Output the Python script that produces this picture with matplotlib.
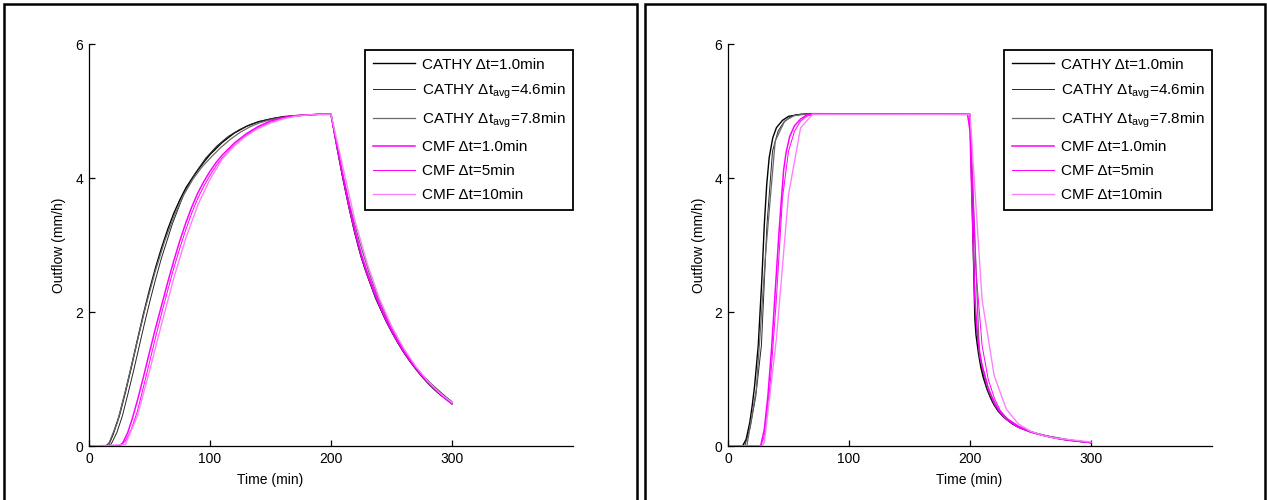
import numpy as np
import matplotlib
matplotlib.use('Agg')
import matplotlib.pyplot as plt
from matplotlib.patches import Rectangle

plt.rcParams['font.family'] = ['Liberation Sans', 'DejaVu Sans']
plt.rcParams['mathtext.fontset'] = 'custom'
plt.rcParams['mathtext.rm'] = 'Liberation Sans'
plt.rcParams['mathtext.it'] = 'Liberation Sans:italic'

# ---- left panel ----
tA_c1 = [0, 14, 17, 20, 25, 30, 35, 40, 45, 50, 55, 60, 65, 70, 75, 80, 85, 90, 95, 100,
         110, 120, 130, 140, 150, 160, 170, 180, 190, 200, 205, 210, 215, 220, 225, 230,
         235, 240, 245, 250, 255, 260, 265, 270, 275, 280, 285, 290, 295, 300]
A_c1 = [0, 0, 0.05, 0.18, 0.45, 0.8, 1.18, 1.58, 1.97, 2.33, 2.66, 2.96, 3.23, 3.47, 3.67,
        3.85, 3.99, 4.12, 4.24, 4.35, 4.53, 4.67, 4.77, 4.84, 4.88, 4.91, 4.93, 4.94, 4.95,
        4.95, 4.45, 3.98, 3.55, 3.16, 2.82, 2.55, 2.31, 2.09, 1.89, 1.71, 1.55, 1.40, 1.27,
        1.15, 1.04, 0.94, 0.85, 0.77, 0.70, 0.63]
tA_c46 = [0, 13.8, 18.4, 23.0, 27.6, 32.2, 36.8, 41.4, 46.0, 50.6, 55.2, 59.8, 69.0, 78.2,
          87.4, 96.6, 105.8, 115.0, 124.2, 133.4, 142.6, 151.8, 161.0, 170.2, 179.4, 188.6,
          197.8, 200, 204.6, 209.2, 213.8, 218.4, 223.0, 227.6, 236.8, 246.0, 255.2, 264.4,
          273.6, 282.8, 292.0, 300]
A_c46 = [0, 0, 0.03, 0.2, 0.45, 0.78, 1.12, 1.48, 1.84, 2.18, 2.5, 2.8, 3.32, 3.75, 4.06,
         4.3, 4.48, 4.62, 4.72, 4.8, 4.85, 4.89, 4.92, 4.93, 4.94, 4.95, 4.95, 4.95, 4.5,
         4.05, 3.65, 3.27, 2.94, 2.66, 2.2, 1.84, 1.54, 1.3, 1.1, 0.93, 0.78, 0.66]
tA_c78 = [0, 15.6, 23.4, 31.2, 39.0, 46.8, 54.6, 62.4, 70.2, 78.0, 85.8, 93.6, 101.4, 109.2,
          117.0, 124.8, 132.6, 140.4, 148.2, 156.0, 171.6, 187.2, 200, 207.8, 215.6, 223.4,
          231.2, 239.0, 246.8, 254.6, 262.4, 270.2, 278.0, 285.8, 293.6, 300]
A_c78 = [0, 0, 0.35, 0.9, 1.5, 2.08, 2.6, 3.05, 3.43, 3.74, 3.98, 4.17, 4.32, 4.46, 4.58,
         4.68, 4.76, 4.82, 4.86, 4.89, 4.93, 4.95, 4.95, 4.2, 3.58, 3.06, 2.6, 2.21, 1.89,
         1.6, 1.37, 1.17, 1.0, 0.86, 0.73, 0.64]
tA_m1 = [0, 25, 28, 32, 36, 40, 45, 50, 55, 60, 65, 70, 75, 80, 85, 90, 95, 100, 105, 110,
         120, 130, 140, 150, 160, 170, 180, 190, 200, 205, 210, 215, 220, 225, 230, 235, 240,
         245, 250, 255, 260, 265, 270, 275, 280, 285, 290, 295, 300]
A_m1 = [0, 0, 0.05, 0.2, 0.42, 0.68, 1.03, 1.4, 1.76, 2.1, 2.44, 2.76, 3.06, 3.33, 3.57, 3.78,
        3.95, 4.1, 4.23, 4.34, 4.52, 4.66, 4.77, 4.85, 4.9, 4.93, 4.94, 4.95, 4.95, 4.47,
        4.0, 3.57, 3.18, 2.84, 2.56, 2.32, 2.1, 1.9, 1.72, 1.56, 1.41, 1.28, 1.16, 1.05, 0.95,
        0.86, 0.78, 0.7, 0.63]
tA_m5 = [0, 25, 30, 35, 40, 45, 50, 55, 60, 65, 70, 75, 80, 85, 90, 95, 100, 105, 110, 120,
         130, 140, 150, 160, 170, 180, 190, 200, 205, 210, 215, 220, 225, 230, 240, 250, 260,
         270, 280, 290, 300]
A_m5 = [0, 0, 0.07, 0.25, 0.52, 0.88, 1.25, 1.62, 1.98, 2.32, 2.65, 2.95, 3.23, 3.48, 3.7,
        3.88, 4.04, 4.18, 4.3, 4.49, 4.64, 4.75, 4.83, 4.89, 4.92, 4.94, 4.95, 4.95, 4.5,
        4.04, 3.62, 3.22, 2.88, 2.6, 2.13, 1.74, 1.43, 1.17, 0.96, 0.79, 0.64]
tA_m10 = [0, 30, 40, 50, 60, 70, 80, 90, 100, 110, 120, 130, 140, 150, 160, 170, 180, 190,
          200, 210, 220, 230, 240, 250, 260, 270, 280, 290, 300]
A_m10 = [0, 0.02, 0.45, 1.12, 1.82, 2.5, 3.1, 3.6, 3.98, 4.28, 4.48, 4.63, 4.74, 4.82, 4.88,
         4.92, 4.94, 4.95, 4.95, 4.15, 3.35, 2.72, 2.2, 1.79, 1.46, 1.19, 0.97, 0.79, 0.65]

# ---- right panel ----
tB_c1 = [0, 12, 15, 18, 20, 22, 25, 28, 30, 32, 34, 37, 40, 45, 50, 60, 200, 201, 202, 203,
         204, 205, 207, 209, 211, 214, 217, 220, 225, 230, 235, 240, 250, 260, 270, 280, 290, 300]
B_c1 = [0, 0, 0.1, 0.35, 0.6, 0.9, 1.5, 2.5, 3.3, 3.9, 4.3, 4.6, 4.75, 4.86, 4.92, 4.95, 4.95,
        4.2, 3.5, 2.7, 1.9, 1.65, 1.38, 1.17, 1.02, 0.85, 0.72, 0.61, 0.49, 0.4, 0.33, 0.28,
        0.21, 0.16, 0.12, 0.09, 0.07, 0.05]
tB_c46 = [0, 13.8, 18.4, 23.0, 27.6, 32.2, 36.8, 41.4, 46.0, 50.6, 55.2, 64.4, 200, 204.6,
          209.2, 213.8, 218.4, 223.0, 227.6, 236.8, 246.0, 255.2, 264.4, 273.6, 282.8, 292.0, 300]
B_c46 = [0, 0, 0.28, 0.75, 1.5, 3.3, 4.4, 4.7, 4.83, 4.9, 4.94, 4.96, 4.95, 1.85, 1.2, 0.86,
         0.66, 0.52, 0.43, 0.31, 0.24, 0.19, 0.15, 0.12, 0.09, 0.07, 0.05]
tB_c78 = [0, 15.6, 23.4, 31.2, 39.0, 46.8, 54.6, 62.4, 200, 207.8, 215.6, 223.4, 231.2, 239.0,
          246.8, 254.6, 262.4, 270.2, 278.0, 285.8, 293.6, 300]
B_c78 = [0, 0, 0.85, 2.9, 4.55, 4.85, 4.93, 4.95, 4.95, 1.35, 0.82, 0.55, 0.4, 0.3, 0.24, 0.19,
         0.15, 0.12, 0.1, 0.08, 0.06, 0.05]
tB_m1 = [0, 27, 30, 33, 36, 39, 42, 44, 46, 48, 51, 55, 60, 65, 70, 198, 200, 202, 204, 206,
         208, 210, 215, 220, 225, 230, 240, 250, 260, 270, 280, 290, 300]
B_m1 = [0, 0, 0.25, 0.75, 1.45, 2.3, 3.15, 3.65, 4.12, 4.38, 4.62, 4.78, 4.88, 4.94, 4.96,
        4.95, 4.7, 3.4, 2.2, 1.7, 1.4, 1.2, 0.87, 0.64, 0.5, 0.4, 0.28, 0.21, 0.16, 0.12, 0.09,
        0.07, 0.05]
tB_m5 = [0, 27, 30, 35, 40, 45, 50, 55, 60, 65, 70, 200, 205, 210, 215, 220, 225, 230, 240,
         250, 260, 270, 280, 290, 300]
B_m5 = [0, 0, 0.15, 0.95, 2.2, 3.7, 4.4, 4.7, 4.85, 4.92, 4.95, 4.95, 2.6, 1.5, 1.0, 0.72,
        0.53, 0.42, 0.3, 0.21, 0.16, 0.12, 0.09, 0.07, 0.05]
tB_m10 = [0, 28, 30, 40, 50, 60, 70, 200, 210, 220, 230, 240, 250, 260, 270, 280, 290, 300]
B_m10 = [0, 0, 0.05, 1.6, 3.75, 4.75, 4.95, 4.95, 2.18, 1.05, 0.55, 0.33, 0.22, 0.16, 0.12,
         0.1, 0.08, 0.06]

labels = ['CATHY \u0394t=1.0min',
          'CATHY \u0394t$_{\\mathrm{avg}}$=4.6min',
          'CATHY \u0394t$_{\\mathrm{avg}}$=7.8min',
          'CMF \u0394t=1.0min',
          'CMF \u0394t=5min',
          'CMF \u0394t=10min']
colors = ['#000000', '#262626', '#6a6a6a', '#ff00ff', '#ff00ff', '#ff80ff']
widths = [1.0, 0.7, 0.9, 1.1, 0.7, 1.0]

panels = [
    [(tA_c1, A_c1), (tA_c46, A_c46), (tA_c78, A_c78), (tA_m1, A_m1), (tA_m5, A_m5), (tA_m10, A_m10)],
    [(tB_c1, B_c1), (tB_c46, B_c46), (tB_c78, B_c78), (tB_m1, B_m1), (tB_m5, B_m5), (tB_m10, B_m10)],
]

fig = plt.figure(figsize=(12.67, 5.0), dpi=100)

# panel frames
for x0, x1 in [(4, 637), (645, 1265)]:
    fig.add_artist(Rectangle((x0 / 1267, -0.1), (x1 - x0) / 1267, 0.992 + 0.1,
                             transform=fig.transFigure, fill=False, ec='black', lw=1.8,
                             clip_on=False))

ax_pos = [(89, 0.374, -0.048), (728, 0.498, -0.045)]
for (left, xlab_x, ylab_x), series in zip(ax_pos, panels):
    ax = fig.add_axes([left / 1267, 54 / 500, 484 / 1267, 402 / 500])
    for (t, y), c, lw, lab in zip(series, colors, widths, labels):
        ax.plot(t, y, color=c, lw=lw, label=lab)
    ax.set_xlim(0, 400)
    ax.set_ylim(0, 6)
    ax.set_xticks([0, 100, 200, 300])
    ax.set_yticks([0, 2, 4, 6])
    ax.spines['top'].set_visible(False)
    ax.spines['right'].set_visible(False)
    ax.spines['left'].set_linewidth(0.9)
    ax.spines['bottom'].set_linewidth(0.9)
    ax.tick_params(direction='in', length=4, width=0.9, labelsize=10, pad=4)
    ax.set_xlabel('Time (min)', fontsize=10)
    ax.set_ylabel('Outflow (mm/h)', fontsize=10)
    ax.xaxis.set_label_coords(xlab_x, -0.067)
    ax.yaxis.set_label_coords(ylab_x, 0.5)
    leg = ax.legend(loc='upper right', bbox_to_anchor=(1.0, 0.985), borderaxespad=0,
                    fontsize=11, handlelength=2.8, handletextpad=0.4, labelspacing=0.65,
                    borderpad=0.5, fancybox=False, framealpha=1)
    leg.get_frame().set_edgecolor('black')
    leg.get_frame().set_linewidth(1.3)

fig.savefig('out.png', dpi=100)
